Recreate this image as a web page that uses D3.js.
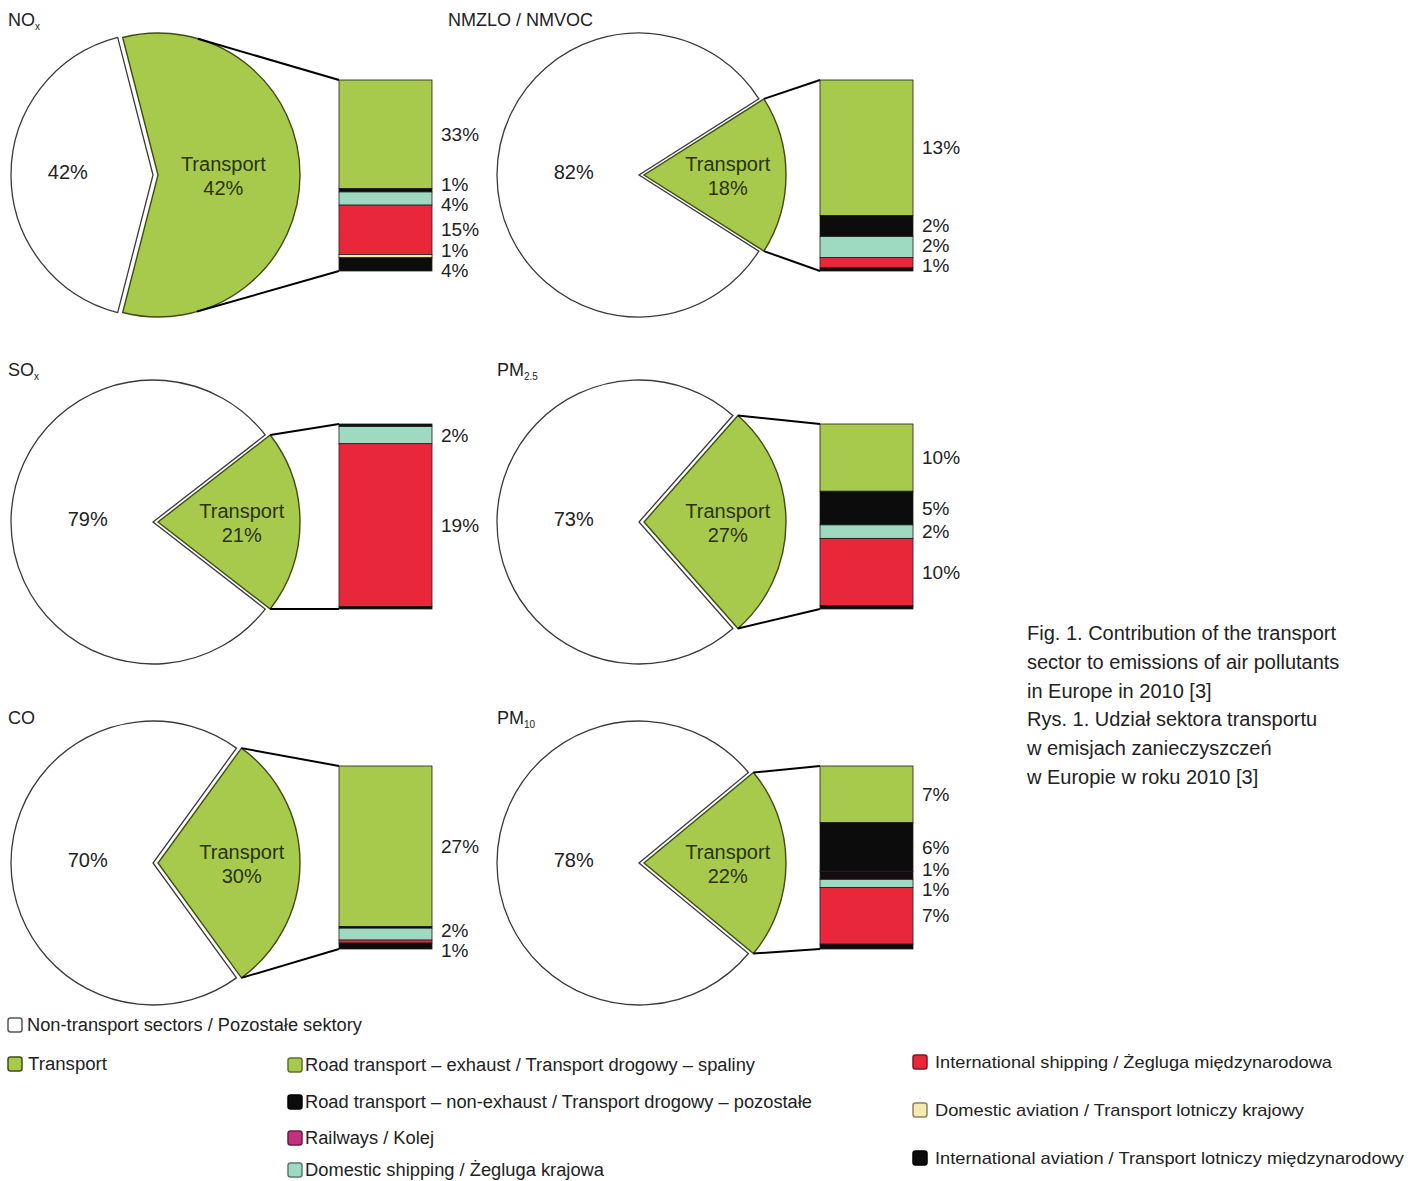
<!DOCTYPE html>
<html><head><meta charset="utf-8">
<script src="https://cdn.jsdelivr.net/npm/d3@7"></script>
<style>body{margin:0;background:#fff}svg{display:block}</style>
</head><body>
<svg id="c" width="1417" height="1181"></svg>
<script>
// ---------- data ----------
const pollutants = ["NOx", "NMVOC", "SOx", "PM2.5", "CO", "PM10"];
const titleMain = ["NO", "NMZLO / NMVOC", "SO", "PM", "CO", "PM"];
const titleSub = ["x", "", "x", "2.5", "", "10"];
// pie geometry share (as drawn) and printed labels
const transportShare = [58, 18, 21, 27, 30, 22];
const transportLabel = ["42%", "18%", "21%", "27%", "30%", "22%"];
const otherLabel = ["42%", "82%", "79%", "73%", "70%", "78%"];
// bar breakdown, one array per transport sub-sector (order NOx, NMVOC, SOx, PM2.5, CO, PM10)
const roadExhaust = [33, 13, 0, 10, 27, 7];
const roadNonExhaust = [1, 2, 0.3, 5, 0.3, 6];
const railways = [0, 0, 0, 0, 0, 1];
const domesticShipping = [4, 2, 2, 2, 2, 1];
const internationalShipping = [15, 1, 19, 10, 0.5, 7];
const domesticAviation = [1, 0, 0, 0, 0, 0];
const internationalAviation = [4, 0.3, 0.3, 0.5, 1, 0.6];

const seriesKeys = ["roadExhaust", "roadNonExhaust", "railways", "domesticShipping",
  "internationalShipping", "domesticAviation", "internationalAviation"];
const seriesArrays = [roadExhaust, roadNonExhaust, railways, domesticShipping,
  internationalShipping, domesticAviation, internationalAviation];

const legendLeft = ["Non-transport sectors / Pozostałe sektory", "Transport"];
const legendMid = ["Road transport – exhaust / Transport drogowy – spaliny",
  "Road transport – non-exhaust / Transport drogowy – pozostałe",
  "Railways / Kolej", "Domestic shipping / Żegluga krajowa"];
const legendRight = ["International shipping / Żegluga międzynarodowa",
  "Domestic aviation / Transport lotniczy krajowy",
  "International aviation / Transport lotniczy międzynarodowy"];
const captionLines = ["Fig. 1. Contribution of the transport",
  "sector to emissions of air pollutants", "in Europe in 2010 [3]",
  "Rys. 1. Udział sektora transportu", "w emisjach zanieczyszczeń",
  "w Europie w roku 2010 [3]"];

// ---------- styles ----------
const FONT = "'Liberation Sans', Arial, Helvetica, sans-serif";
const GREEN = "#a7ca4c";
const barColors = {
  roadExhaust: GREEN, roadNonExhaust: "#0c0c0c", railways: "#170b12",
  domesticShipping: "#9ed9c1", internationalShipping: "#e8283a",
  domesticAviation: "#f3e7a8", internationalAviation: "#0c0c0c"
};
const legendSwatch = ["#a7ca4c", "#0c0c0c", "#c2307e", "#9ed9c1", "#e8283a", "#f6eab0", "#0c0c0c"];

const svg = d3.select("#c");
svg.append("rect").attr("width", 1417).attr("height", 1181).attr("fill", "#fff");

const colCX = [153, 639], colBarX = [339, 820], barW = 93;
const rowCY = [175, 522, 863], rowBarTop = [80, 424, 766], rowBarBot = [271, 609, 949];
const rowTitleY = [26, 376, 724];
const colTitleX = [8, 497];
const R = 142, EXPLODE = 5;

// stacked table
const table = pollutants.map((p, i) => {
  const o = {pollutant: p};
  seriesKeys.forEach((k, j) => o[k] = seriesArrays[j][i]);
  return o;
});
const stacked = d3.stack().keys(seriesKeys)(table);

pollutants.forEach((p, i) => {
  const col = i % 2, row = Math.floor(i / 2);
  const cx = colCX[col], cy = rowCY[row];
  const g = svg.append("g");

  // title
  const t = g.append("text").attr("x", i === 1 ? 448 : colTitleX[col]).attr("y", rowTitleY[row])
    .attr("font-family", FONT).attr("font-size", 18).attr("fill", "#222");
  t.append("tspan").text(titleMain[i]);
  if (titleSub[i]) t.append("tspan").attr("font-size", 10).attr("dy", 4).text(titleSub[i]);

  // pie
  const a = transportShare[i] / 100 * 2 * Math.PI;
  const pie = d3.pie().sort(null).value(d => d)
    .startAngle(Math.PI / 2 - a / 2).endAngle(Math.PI / 2 - a / 2 + 2 * Math.PI);
  const arcs = pie([transportShare[i], 100 - transportShare[i]]);
  const arc = d3.arc().innerRadius(0).outerRadius(R);
  g.append("path").attr("d", arc(arcs[1])).attr("transform", `translate(${cx},${cy})`)
    .attr("fill", "#fff").attr("stroke", "#3a3a3a").attr("stroke-width", 1.3);
  const gx = cx + EXPLODE;
  g.append("path").attr("d", arc(arcs[0])).attr("transform", `translate(${gx},${cy})`)
    .attr("fill", GREEN).attr("stroke", "#3e4d14").attr("stroke-width", 1.4);

  // pie labels
  const big = transportShare[i] > 50;
  const or = big ? 0.6 * R : 0.46 * R;
  g.append("text").attr("x", cx - or).attr("y", cy - 3).attr("dy", "0.35em")
    .attr("text-anchor", "middle").attr("font-family", FONT).attr("font-size", 20).attr("fill", "#222")
    .text(otherLabel[i]);
  const lr = big ? 0.46 * R : 0.59 * R;
  const tl = g.append("text").attr("text-anchor", "middle").attr("font-family", FONT)
    .attr("font-size", 20).attr("fill", "#2b3210");
  tl.append("tspan").attr("x", gx + lr).attr("y", cy - 11).attr("dy", "0.35em").text("Transport");
  tl.append("tspan").attr("x", gx + lr).attr("y", cy + 13).attr("dy", "0.35em").text(transportLabel[i]);

  // bar
  const bx = colBarX[col], top = rowBarTop[row], bot = rowBarBot[row];
  const total = d3.sum(seriesArrays, s => s[i]);
  const y = d3.scaleLinear().domain([0, total]).range([top, bot]);

  // connectors
  const half = a / 2;
  function endPoint(px, py, upper) {
    const vx = px - gx, vy = py - cy, d = Math.hypot(vx, vy);
    const phi = Math.atan2(vy, vx), al = Math.acos(R / d);
    const cands = [phi - al, phi + al].map(th => ({th: Math.atan2(Math.sin(th), Math.cos(th))}));
    cands.forEach(c => c.y = cy + R * Math.sin(c.th));
    cands.sort((m, n) => m.y - n.y);
    const tan = upper ? cands[0] : cands[1];
    if (Math.abs(tan.th) <= half) return [gx + R * Math.cos(tan.th), cy + R * Math.sin(tan.th)];
    const th = upper ? -half : half;
    return [gx + R * Math.cos(th), cy + R * Math.sin(th)];
  }
  const p1 = endPoint(bx, top, true), p2 = endPoint(bx, bot, false);
  g.append("line").attr("x1", p1[0]).attr("y1", p1[1]).attr("x2", bx).attr("y2", top)
    .attr("stroke", "#000").attr("stroke-width", 2);
  g.append("line").attr("x1", p2[0]).attr("y1", p2[1]).attr("x2", bx).attr("y2", bot)
    .attr("stroke", "#000").attr("stroke-width", 2);

  const labels = [];
  stacked.forEach((s, j) => {
    const v = seriesArrays[j][i];
    if (v <= 0) return;
    g.append("rect").attr("x", bx).attr("y", y(s[i][0])).attr("width", barW)
      .attr("height", y(s[i][1]) - y(s[i][0]))
      .attr("fill", barColors[s.key]).attr("stroke", "#1e1e1e").attr("stroke-width", 0.8);
    if (v >= 1) labels.push({y: y((s[i][0] + s[i][1]) / 2), text: v + "%"});
  });
  // relax label positions
  const gap = 20;
  for (let it = 0; it < 80; it++) {
    for (let k = 0; k < labels.length - 1; k++) {
      const d = labels[k + 1].y - labels[k].y;
      if (d < gap) { const s = (gap - d) / 2; labels[k].y -= s; labels[k + 1].y += s; }
    }
  }
  labels.forEach(l => {
    g.append("text").attr("x", bx + barW + 9).attr("y", l.y).attr("dy", "0.35em")
      .attr("font-family", FONT).attr("font-size", 19).attr("fill", "#222").text(l.text);
  });
});

// ---------- legend ----------
function swatch(x, yc, fill, stroke) {
  svg.append("rect").attr("x", x).attr("y", yc - 7).attr("width", 14).attr("height", 14)
    .attr("rx", 2.5).attr("fill", fill).attr("stroke", stroke).attr("stroke-width", 1.5);
}
function ltext(x, yc, s, w, narrow) {
  const t = svg.append("text").attr("x", x).attr("y", yc).attr("dy", "0.35em")
    .attr("font-family", narrow ? "'Liberation Sans Narrow', " + FONT : FONT)
    .attr("font-size", narrow ? 18 : 17).attr("fill", "#222").text(s);
  if (w) t.attr("textLength", w).attr("lengthAdjust", "spacingAndGlyphs");
}
const leftY = [1025, 1064];
swatch(8, leftY[0], "#fff", "#555");
ltext(27, leftY[0], legendLeft[0], 335, true);
swatch(8, leftY[1], GREEN, "#3e4d14");
ltext(28, leftY[1], legendLeft[1], 79, true);

const midY = [1065, 1102, 1138, 1170];
const midW = [450, 507, 129, 299];
legendMid.forEach((s, k) => {
  swatch(288, midY[k], legendSwatch[k], k === 1 ? "#000" : d3.color(legendSwatch[k]).darker(1.6));
  ltext(305, midY[k], s, midW[k], true);
});
const rightY = [1062, 1110, 1158];
const rightW = [397, 369, 469];
legendRight.forEach((s, k) => {
  const c = legendSwatch[4 + k];
  swatch(913, rightY[k], c, k === 2 ? "#000" : d3.color(c).darker(1.6));
  ltext(935, rightY[k], s, rightW[k], false);
});

// ---------- caption ----------
captionLines.forEach((s, k) => {
  svg.append("text").attr("x", 1027).attr("y", 633 + k * 28.8).attr("dy", "0.35em")
    .attr("font-family", FONT).attr("font-size", 20).attr("fill", "#222").text(s);
});
</script>
</body></html>
